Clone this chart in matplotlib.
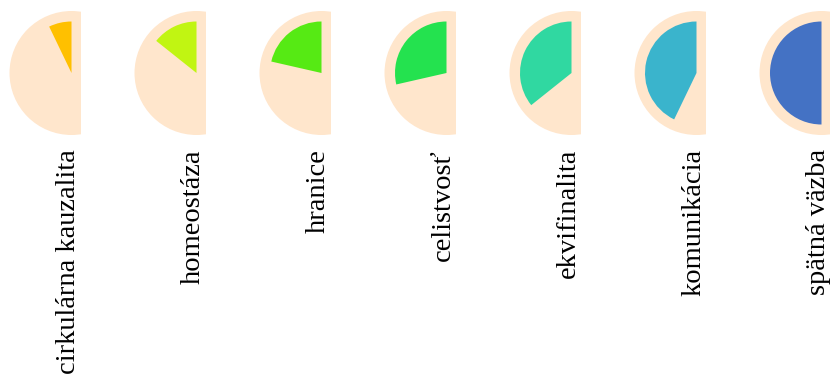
import matplotlib
matplotlib.use("Agg")
import matplotlib.pyplot as plt
from matplotlib.patches import Circle, Wedge, Rectangle

# data
labels = ['cirkulárna kauzalita', 'homeostáza', 'hranice', 'celistvosť',
          'ekvifinalita', 'komunikácia', 'spätná väzba']
values = [1, 2, 3, 4, 5, 6, 7]
max_value = 7
colors = ['#FFC000', '#C1F512', '#56EA14', '#24E24F', '#30D8A1', '#3AB4CC', '#4472C4']
bg_color = '#FFE6CC'

# layout (pixel-like data units)
spacing = 125
x0 = 71.5
cy = 73
r_outer = 62
r_inner = 51.5
clip_right = 9.5

fig = plt.figure(figsize=(8.3, 3.78), dpi=100)
ax = fig.add_axes([0, 0, 1, 1])
ax.set_xlim(0, 830)
ax.set_ylim(378, 0)
ax.set_aspect('equal')
ax.axis('off')

for i, (lab, val, col) in enumerate(zip(labels, values, colors)):
    cx = x0 + i * spacing
    # background disc, cut off a little right of the centre
    clip = Rectangle((cx - r_outer - 5, cy - r_outer - 5), r_outer + 5 + clip_right,
                     2 * r_outer + 10, transform=ax.transData)
    bg = Circle((cx, cy), r_outer, color=bg_color, lw=0)
    ax.add_patch(bg)
    bg.set_clip_path(clip)
    # value wedge, from 12 o'clock going counter-clockwise (y axis is inverted)
    angle = 180 * val / max_value
    ax.add_patch(Wedge((cx, cy), r_inner, 270 - angle, 270, color=col, lw=0))
    ax.text(cx + 3.5, 149, lab, rotation=90, rotation_mode='anchor',
            ha='right', va='baseline', fontsize=20.5, family='Liberation Serif')

fig.savefig('out.png', dpi=100)
